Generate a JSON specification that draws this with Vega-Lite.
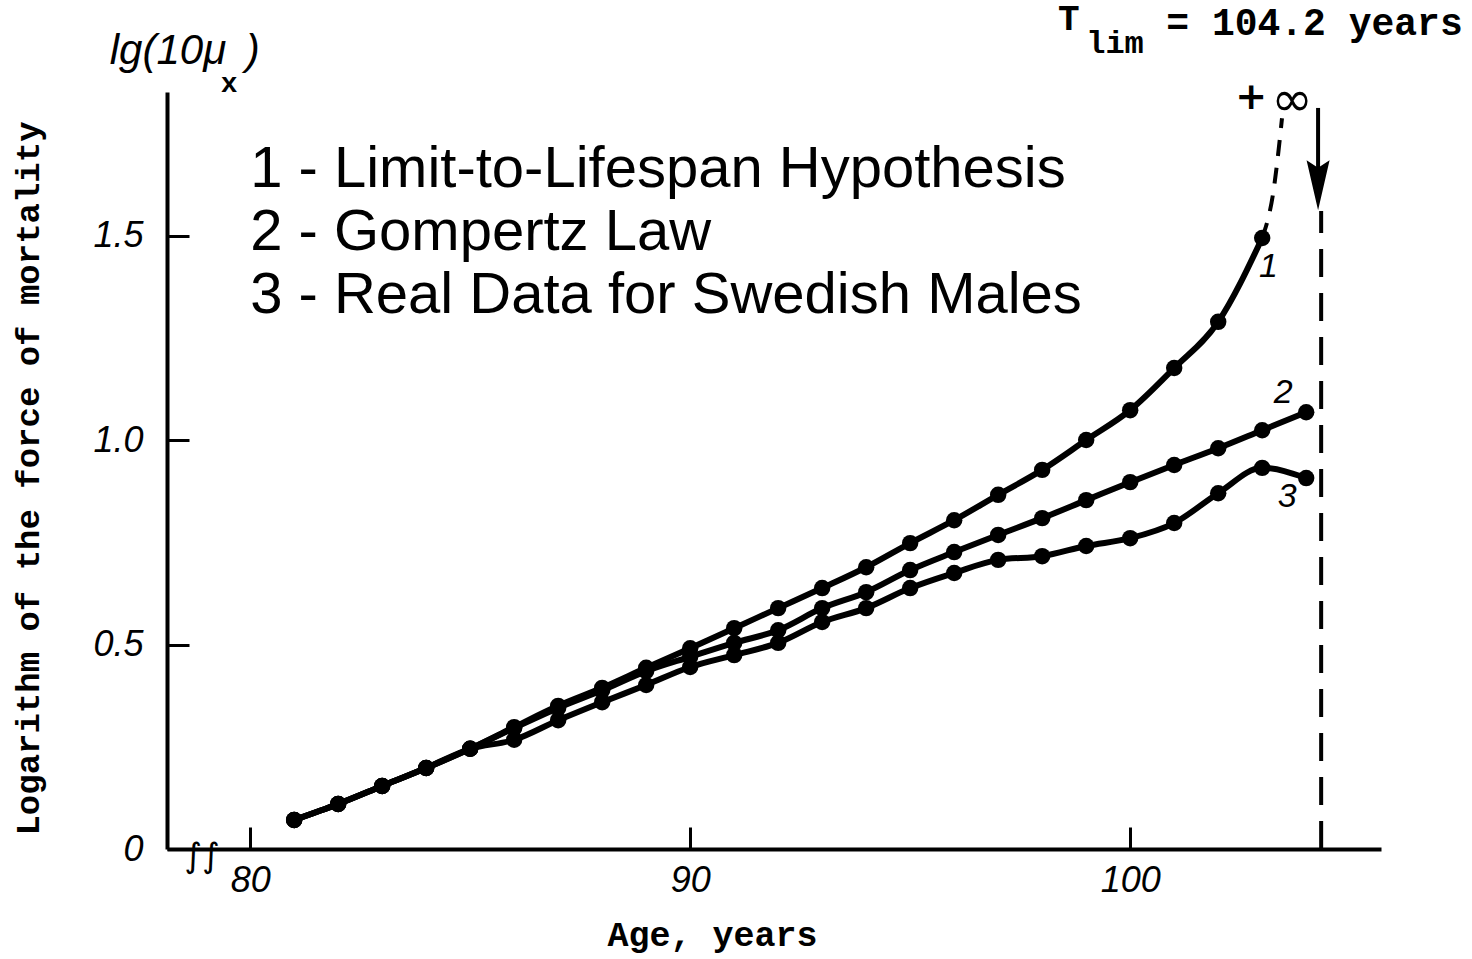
{
  "$schema": "https://vega.github.io/schema/vega-lite/v6.json",
  "width": 1214,
  "height": 757,
  "autosize": {"type": "none"},
  "padding": {"left": 167, "top": 92, "right": 91, "bottom": 110},
  "background": "white",
  "data": {"values": [{}]},
  "config": {
    "view": {"stroke": null},
    "font": "Liberation Sans",
    "axis": {
      "grid": false,
      "domainColor": "black",
      "domainWidth": 4,
      "tickColor": "black",
      "tickWidth": 3,
      "tickSize": -22,
      "labelColor": "black",
      "labelFont": "Liberation Sans",
      "labelFontStyle": "italic",
      "labelFontSize": 36,
      "titleColor": "black",
      "titleFont": "Liberation Mono",
      "titleFontWeight": "bold"
    }
  },
  "datasets": {
    "curves": [
      {"curve": "1", "age": 81, "value": 0.071},
      {"curve": "1", "age": 82, "value": 0.110},
      {"curve": "1", "age": 83, "value": 0.154},
      {"curve": "1", "age": 84, "value": 0.198},
      {"curve": "1", "age": 85, "value": 0.245},
      {"curve": "1", "age": 86, "value": 0.298},
      {"curve": "1", "age": 87, "value": 0.350},
      {"curve": "1", "age": 88, "value": 0.394},
      {"curve": "1", "age": 89, "value": 0.443},
      {"curve": "1", "age": 90, "value": 0.491},
      {"curve": "1", "age": 91, "value": 0.540},
      {"curve": "1", "age": 92, "value": 0.589},
      {"curve": "1", "age": 93, "value": 0.638},
      {"curve": "1", "age": 94, "value": 0.689},
      {"curve": "1", "age": 95, "value": 0.748},
      {"curve": "1", "age": 96, "value": 0.804},
      {"curve": "1", "age": 97, "value": 0.866},
      {"curve": "1", "age": 98, "value": 0.927},
      {"curve": "1", "age": 99, "value": 1.000},
      {"curve": "1", "age": 100, "value": 1.073},
      {"curve": "1", "age": 101, "value": 1.176},
      {"curve": "1", "age": 102, "value": 1.289},
      {"curve": "1", "age": 103, "value": 1.494},
      {"curve": "2", "age": 81, "value": 0.071},
      {"curve": "2", "age": 82, "value": 0.110},
      {"curve": "2", "age": 83, "value": 0.154},
      {"curve": "2", "age": 84, "value": 0.198},
      {"curve": "2", "age": 85, "value": 0.245},
      {"curve": "2", "age": 86, "value": 0.296},
      {"curve": "2", "age": 87, "value": 0.345},
      {"curve": "2", "age": 88, "value": 0.388},
      {"curve": "2", "age": 89, "value": 0.435},
      {"curve": "2", "age": 90, "value": 0.470},
      {"curve": "2", "age": 91, "value": 0.504},
      {"curve": "2", "age": 92, "value": 0.535},
      {"curve": "2", "age": 93, "value": 0.589},
      {"curve": "2", "age": 94, "value": 0.628},
      {"curve": "2", "age": 95, "value": 0.682},
      {"curve": "2", "age": 96, "value": 0.726},
      {"curve": "2", "age": 97, "value": 0.768},
      {"curve": "2", "age": 98, "value": 0.809},
      {"curve": "2", "age": 99, "value": 0.853},
      {"curve": "2", "age": 100, "value": 0.897},
      {"curve": "2", "age": 101, "value": 0.939},
      {"curve": "2", "age": 102, "value": 0.980},
      {"curve": "2", "age": 103, "value": 1.024},
      {"curve": "2", "age": 104, "value": 1.068},
      {"curve": "3", "age": 81, "value": 0.071},
      {"curve": "3", "age": 82, "value": 0.110},
      {"curve": "3", "age": 83, "value": 0.154},
      {"curve": "3", "age": 84, "value": 0.198},
      {"curve": "3", "age": 85, "value": 0.245},
      {"curve": "3", "age": 86, "value": 0.267},
      {"curve": "3", "age": 87, "value": 0.315},
      {"curve": "3", "age": 88, "value": 0.359},
      {"curve": "3", "age": 89, "value": 0.401},
      {"curve": "3", "age": 90, "value": 0.445},
      {"curve": "3", "age": 91, "value": 0.474},
      {"curve": "3", "age": 92, "value": 0.504},
      {"curve": "3", "age": 93, "value": 0.555},
      {"curve": "3", "age": 94, "value": 0.589},
      {"curve": "3", "age": 95, "value": 0.638},
      {"curve": "3", "age": 96, "value": 0.675},
      {"curve": "3", "age": 97, "value": 0.707},
      {"curve": "3", "age": 98, "value": 0.716},
      {"curve": "3", "age": 99, "value": 0.741},
      {"curve": "3", "age": 100, "value": 0.760},
      {"curve": "3", "age": 101, "value": 0.797},
      {"curve": "3", "age": 102, "value": 0.870},
      {"curve": "3", "age": 103, "value": 0.932},
      {"curve": "3", "age": 104, "value": 0.907}
    ],
    "extension": [
      {"age": 103.0, "value": 1.494},
      {"age": 103.27, "value": 1.619},
      {"age": 103.39, "value": 1.726},
      {"age": 103.45, "value": 1.787}
    ]
  },
  "layer": [
    {
      "data": {"name": "curves"},
      "mark": {"type": "line", "color": "black", "strokeWidth": 6, "interpolate": "monotone"},
      "encoding": {
        "x": {
          "field": "age",
          "type": "quantitative",
          "scale": {"domain": [78.11, 105.7], "nice": false, "zero": false},
          "axis": {
            "values": [80, 90, 100],
            "labelPadding": 36,
            "labelDx": -6,
            "title": "Age, years",
            "titleFontSize": 35,
            "titleX": 545,
            "titleY": 96,
            "titleAlign": "center",
            "titleBaseline": "alphabetic"
          }
        },
        "y": {
          "field": "value",
          "type": "quantitative",
          "scale": {"domain": [0, 1.851], "nice": false, "zero": false},
          "axis": {
            "values": [0, 0.5, 1, 1.5],
            "labelExpr": "datum.value == 0 ? '0' : format(datum.value, '.1f')",
            "labelPadding": 46,
            "title": "Logarithm of the force of mortality",
            "titleFontSize": 34,
            "titleAngle": 270,
            "titleX": -139,
            "titleY": 386,
            "titleAlign": "center",
            "titleBaseline": "middle"
          }
        },
        "detail": {"field": "curve"}
      }
    },
    {
      "data": {"name": "curves"},
      "mark": {"type": "point", "filled": true, "color": "black", "opacity": 1, "size": 270},
      "encoding": {
        "x": {"field": "age", "type": "quantitative"},
        "y": {"field": "value", "type": "quantitative"}
      }
    },
    {
      "data": {"name": "extension"},
      "mark": {"type": "line", "color": "black", "strokeWidth": 4, "strokeDash": [16, 12], "interpolate": "monotone"},
      "encoding": {
        "x": {"field": "age", "type": "quantitative"},
        "y": {"field": "value", "type": "quantitative"}
      }
    },
    {
      "mark": {"type": "rule", "color": "black", "strokeWidth": 4, "strokeDash": [28, 16]},
      "encoding": {"x": {"datum": 104.34}, "y": {"datum": 0}, "y2": {"datum": 1.56}}
    },
    {
      "mark": {"type": "rule", "color": "black", "strokeWidth": 4},
      "encoding": {"x": {"datum": 104.27}, "y": {"datum": 1.812}, "y2": {"datum": 1.66}}
    },
    {
      "mark": {"type": "point", "filled": true, "color": "black", "opacity": 1, "size": 2500, "shape": "M-0.46,-1 L0,-0.7 L0.46,-1 L0,1 Z"},
      "encoding": {"x": {"datum": 104.27}, "y": {"datum": 1.623}}
    },
    {
      "mark": {"type": "text", "text": ["1 - Limit-to-Lifespan Hypothesis", "2 - Gompertz Law", "3 - Real Data for Swedish Males"], "font": "Liberation Sans", "fontSize": 58, "align": "left", "baseline": "alphabetic", "lineHeight": 63, "color": "black"},
      "encoding": {"x": {"datum": 80.0}, "y": {"datum": 1.619}}
    },
    {
      "mark": {"type": "text", "text": "1", "font": "Liberation Sans", "fontStyle": "italic", "fontSize": 34, "align": "center", "baseline": "middle", "color": "black"},
      "encoding": {"x": {"datum": 103.14}, "y": {"datum": 1.423}}
    },
    {
      "mark": {"type": "text", "text": "2", "font": "Liberation Sans", "fontStyle": "italic", "fontSize": 34, "align": "center", "baseline": "middle", "color": "black"},
      "encoding": {"x": {"datum": 103.48}, "y": {"datum": 1.115}}
    },
    {
      "mark": {"type": "text", "text": "3", "font": "Liberation Sans", "fontStyle": "italic", "fontSize": 34, "align": "center", "baseline": "middle", "color": "black"},
      "encoding": {"x": {"datum": 103.57}, "y": {"datum": 0.861}}
    },
    {
      "mark": {"type": "text", "text": "+", "font": "DejaVu Sans", "fontSize": 38, "fontWeight": "bold", "align": "center", "baseline": "middle", "color": "black"},
      "encoding": {"x": {"datum": 102.75}, "y": {"datum": 1.836}}
    },
    {
      "mark": {"type": "text", "text": "∞", "font": "DejaVu Sans", "fontSize": 50, "align": "center", "baseline": "middle", "color": "black"},
      "encoding": {"x": {"datum": 103.68}, "y": {"datum": 1.83}}
    },
    {
      "mark": {"type": "text", "text": "T", "font": "Liberation Mono", "fontWeight": "bold", "fontSize": 36, "align": "left", "baseline": "alphabetic", "color": "black"},
      "encoding": {"x": {"datum": 98.36}, "y": {"datum": 2.002}}
    },
    {
      "mark": {"type": "text", "text": "lim", "font": "Liberation Mono", "fontWeight": "bold", "fontSize": 32, "align": "left", "baseline": "alphabetic", "color": "black"},
      "encoding": {"x": {"datum": 99.0}, "y": {"datum": 1.946}}
    },
    {
      "mark": {"type": "text", "text": "= 104.2 years", "font": "Liberation Mono", "fontWeight": "bold", "fontSize": 38, "align": "left", "baseline": "alphabetic", "color": "black"},
      "encoding": {"x": {"datum": 100.82}, "y": {"datum": 1.99}}
    },
    {
      "mark": {"type": "text", "text": "lg(10μ", "font": "Liberation Sans", "fontStyle": "italic", "fontSize": 42, "align": "right", "baseline": "alphabetic", "color": "black"},
      "encoding": {"x": {"datum": 79.455}, "y": {"datum": 1.919}}
    },
    {
      "mark": {"type": "text", "text": "x", "font": "Liberation Mono", "fontWeight": "bold", "fontSize": 28, "align": "center", "baseline": "alphabetic", "color": "black"},
      "encoding": {"x": {"datum": 79.52}, "y": {"datum": 1.851}}
    },
    {
      "mark": {"type": "text", "text": ")", "font": "Liberation Sans", "fontStyle": "italic", "fontSize": 42, "align": "left", "baseline": "alphabetic", "color": "black"},
      "encoding": {"x": {"datum": 79.9}, "y": {"datum": 1.919}}
    },
    {
      "mark": {"type": "text", "text": "∫∫", "font": "DejaVu Sans", "fontSize": 34, "align": "center", "baseline": "alphabetic", "color": "black"},
      "encoding": {"x": {"datum": 78.91}, "y": {"datum": -0.045}}
    }
  ]
}
